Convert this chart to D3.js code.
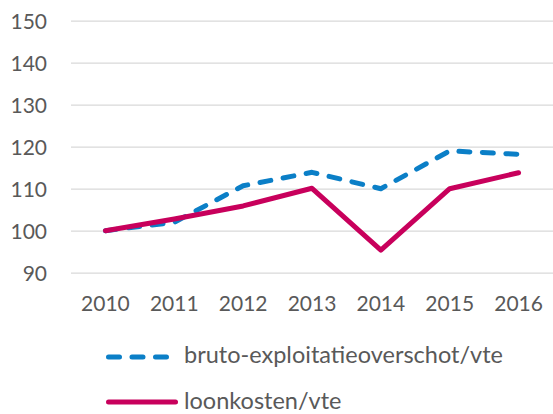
<!DOCTYPE html>
<html><head><meta charset="utf-8">
<script src="https://cdn.jsdelivr.net/npm/d3@7"></script>
<style>body{margin:0;background:#fff}svg{display:block}text{font-family:Lato,"Open Sans",sans-serif;fill:#595959}</style>
</head><body><svg id="c" width="553" height="414"></svg>
<script>
const years = ["2010","2011","2012","2013","2014","2015","2016"];
const brutoValues = [100, 102, 110.7, 113.9, 110, 119, 118.2];
const loonValues = [100, 102.8, 105.9, 110.1, 95.4, 110, 113.8];
const yTicks = [90, 100, 110, 120, 130, 140, 150];
const seriesNames = ["bruto-exploitatieoverschot/vte", "loonkosten/vte"];
const seriesColors = ["#0B7FC7", "#C8005C"];

const svg = d3.select("#c");
const x = d3.scaleBand().domain(years).range([71, 553]);
const y = d3.scaleLinear().domain([90, 150]).range([272.7, 20.7]);

const yAxis = d3.axisLeft(y).tickValues(yTicks).tickSize(-(553 - 71)).tickPadding(24);
const gy = svg.append("g").attr("transform", "translate(71,0)").call(yAxis);
gy.select(".domain").remove();
gy.selectAll(".tick line").attr("stroke", "#d9d9d9").attr("stroke-width", 1.3);
gy.selectAll(".tick text").attr("font-size", 21).attr("dy", "0.36em").attr("x", -24);

const xAxis = d3.axisBottom(x).tickSize(0).tickPadding(0);
const gx = svg.append("g").attr("transform", "translate(0,311)").call(xAxis);
gx.select(".domain").remove();
gx.selectAll(".tick text").attr("font-size", 21).attr("dy", 0).attr("y", 0);

const cx = d => x(d) + x.bandwidth() / 2;
const line = d3.line().x((d, i) => cx(years[i])).y(d => y(d));

svg.append("path").datum(brutoValues).attr("d", line)
  .attr("fill", "none").attr("stroke", seriesColors[0]).attr("stroke-width", 5)
  .attr("stroke-dasharray", "11,12.5").attr("stroke-linecap", "round").attr("stroke-linejoin", "round");
svg.append("path").datum(loonValues).attr("d", line)
  .attr("fill", "none").attr("stroke", seriesColors[1]).attr("stroke-width", 5)
  .attr("stroke-linecap", "round").attr("stroke-linejoin", "round");

// legend
const leg = [
  {name: seriesNames[0], color: seriesColors[0], dash: "11,12.5", y: 357, base: 363},
  {name: seriesNames[1], color: seriesColors[1], dash: null, y: 402, base: 409}
];
leg.forEach(l => {
  svg.append("line").attr("x1", 108.5).attr("x2", 175.5).attr("y1", l.y).attr("y2", l.y)
    .attr("stroke", l.color).attr("stroke-width", 5).attr("stroke-linecap", "round")
    .attr("stroke-dasharray", l.dash);
  svg.append("text").attr("x", 184).attr("y", l.base).attr("font-size", 23.5).text(l.name);
});
</script></body></html>
